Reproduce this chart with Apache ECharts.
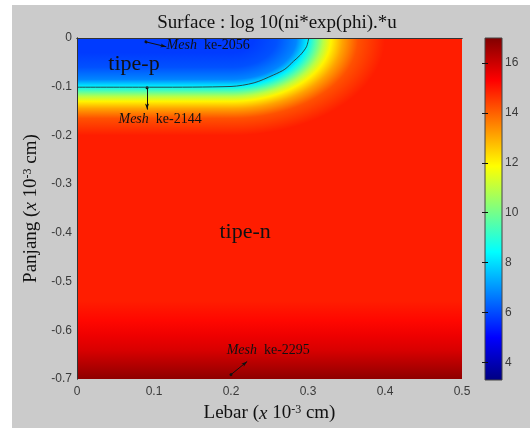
<!DOCTYPE html>
<html>
<head>
<meta charset="utf-8">
<script src="https://cdn.jsdelivr.net/npm/echarts@6/dist/echarts.min.js"></script>
<style>
  html, body { margin: 0; padding: 0; background: #fff; }
  #chart { width: 530px; height: 428px; }
</style>
</head>
<body>
<div id="chart"></div>
<script>
// vertical profile below the p-window (depth in 10^-3 cm, log10 value)
const pDepth = [0, 0.03, 0.06, 0.085, 0.1, 0.11, 0.12, 0.13, 0.145, 0.165, 0.2];
const pValue = [5.8, 5.8, 6.1, 6.8, 8.3, 9.6, 10.9, 12.0, 13.1, 14.2, 14.9];
const pWindowEdge = 0.2;

// darker band near the bottom of the device
const bottomY = [-0.54, -0.58, -0.61, -0.64, -0.67, -0.7];
const bottomValue = [14.9, 15.2, 15.5, 15.8, 16.3, 16.8];

// p-n junction contour
const junctionX = [0, 0.1, 0.2, 0.23, 0.255, 0.27, 0.281, 0.29, 0.298, 0.301];
const junctionY = [-0.101, -0.101, -0.0995, -0.092, -0.076, -0.064, -0.048, -0.035, -0.018, 0];

const cbMin = 3.3;
const cbMax = 17;
const cbTicks = [4, 6, 8, 10, 12, 14, 16];

const serif = "'Liberation Serif', 'Times New Roman', serif";
const sans = "'Liberation Sans', Arial, sans-serif";

// MATLAB jet colormap
const jetStops = [
  [0, [0, 0, 0.5]], [0.125, [0, 0, 1]], [0.375, [0, 1, 1]],
  [0.625, [1, 1, 0]], [0.875, [1, 0, 0]], [1, [0.5, 0, 0]],
];
function jet(v) {
  const t = Math.min(1, Math.max(0, (v - cbMin) / (cbMax - cbMin)));
  for (let i = 1; i < jetStops.length; i++) {
    const [t1, c1] = jetStops[i];
    const [t0, c0] = jetStops[i - 1];
    if (t <= t1) {
      const f = (t - t0) / (t1 - t0);
      const c = c0.map((a, k) => Math.round(255 * (a + (c1[k] - a) * f)));
      return `rgb(${c[0]},${c[1]},${c[2]})`;
    }
  }
  return 'rgb(128,0,0)';
}

const R = pDepth[pDepth.length - 1];
const profileStops = pDepth.map((d, i) => ({ offset: d / R, color: jet(pValue[i]) }));
const bottomStops = [{ offset: 0, color: jet(bottomValue[0]) }].concat(
  bottomY.map((y, i) => ({ offset: -y / 0.7, color: jet(bottomValue[i]) }))
);

const chart = echarts.init(document.getElementById('chart'), null, { renderer: 'canvas' });

const nameRich = {
  n: { fontFamily: serif, fontSize: 19, color: '#111' },
  it: { fontFamily: serif, fontSize: 19, fontStyle: 'italic', color: '#111' },
  sup: { fontFamily: serif, fontSize: 12, color: '#111', verticalAlign: 'top' },
};
const noteRich = {
  i: { fontFamily: serif, fontSize: 14, fontStyle: 'italic', color: '#111' },
  n: { fontFamily: serif, fontSize: 14, color: '#111' },
};

const option = {
  animation: false,
  backgroundColor: '#fff',
  graphic: [
    { type: 'rect', left: 12, top: 5, shape: { width: 518, height: 423 }, style: { fill: '#cbcbcb' }, z: -10 },
  ],
  title: {
    text: 'Surface : log 10(ni*exp(phi).*u',
    left: 272,
    top: 9,
    textAlign: 'center',
    textStyle: { fontFamily: serif, fontSize: 19, fontWeight: 'normal', color: '#111' },
  },
  grid: [
    { left: 77, top: 38, width: 385, height: 342 },
    { left: 485, top: 38, width: 17, height: 342 },
  ],
  xAxis: [
    {
      type: 'value', gridIndex: 0, min: 0, max: 0.5, interval: 0.1, z: 10,
      axisLine: { lineStyle: { color: '#333' } },
      axisTick: { show: false },
      splitLine: { show: false },
      axisLabel: {
        color: '#3a3a3a', fontFamily: sans, fontSize: 12, margin: 7,
        formatter: (v) => (v === 0 ? '0' : (+v).toFixed(1)),
      },
      name: '{n|Lebar (}{it|x}{n| 10}{sup|-3}{n| cm)}',
      nameLocation: 'middle',
      nameGap: 25,
      nameTextStyle: { rich: nameRich },
    },
    {
      type: 'value', gridIndex: 0, position: 'top', min: 0, max: 0.5, z: 10,
      axisLine: { lineStyle: { color: '#333' } },
      axisTick: { show: false }, axisLabel: { show: false }, splitLine: { show: false },
    },
    { type: 'value', gridIndex: 1, min: 0, max: 1, show: false },
  ],
  yAxis: [
    {
      type: 'value', gridIndex: 0, min: -0.7, max: 0, interval: 0.1, z: 10,
      axisLine: { lineStyle: { color: '#333' } },
      axisTick: { show: false },
      splitLine: { show: false },
      axisLabel: {
        color: '#3a3a3a', fontFamily: sans, fontSize: 12, margin: 5,
        formatter: (v) => (Math.abs(v) < 1e-9 ? '0' : (+v).toFixed(1)),
      },
      name: '{n|Panjang (}{it|x}{n| 10}{sup|-3}{n| cm)}',
      nameLocation: 'middle',
      nameGap: 34,
      nameTextStyle: { rich: nameRich },
    },
    {
      type: 'value', gridIndex: 0, position: 'right', min: -0.7, max: 0, z: 10,
      axisLine: { lineStyle: { color: '#333' } },
      axisTick: { show: false }, axisLabel: { show: false }, splitLine: { show: false },
    },
    {
      type: 'value', gridIndex: 1, position: 'right', min: cbMin, max: cbMax, z: 10,
      axisLine: { show: false },
      splitLine: { show: false },
      axisTick: { inside: true, length: 3, customValues: cbTicks, lineStyle: { color: '#111' } },
      axisLabel: { customValues: cbTicks, color: '#3a3a3a', fontFamily: sans, fontSize: 12, margin: 3 },
    },
    {
      type: 'value', gridIndex: 1, position: 'left', min: cbMin, max: cbMax, z: 10,
      axisLine: { show: false },
      splitLine: { show: false },
      axisTick: { inside: true, length: 3, customValues: cbTicks, lineStyle: { color: '#111' } },
      axisLabel: { show: false },
    },
  ],
  series: [
    {
      name: 'bulk',
      type: 'custom',
      xAxisIndex: 0, yAxisIndex: 0,
      data: [[0, 0]],
      renderItem(params, api) {
        const a = api.coord([0, 0]);
        const b = api.coord([0.5, -0.7]);
        return {
          type: 'rect',
          shape: { x: a[0], y: a[1], width: b[0] - a[0], height: b[1] - a[1] },
          style: { fill: new echarts.graphic.LinearGradient(0, 0, 0, 1, bottomStops) },
        };
      },
    },
    {
      name: 'corner',
      type: 'custom',
      xAxisIndex: 0, yAxisIndex: 0,
      data: [[pWindowEdge, 0]],
      renderItem(params, api) {
        const c = api.coord([pWindowEdge, 0]);
        const e = api.coord([pWindowEdge + R, -R]);
        const rx = e[0] - c[0];
        const ry = e[1] - c[1];
        return {
          type: 'sector',
          x: c[0], y: c[1],
          scaleX: rx / ry, scaleY: 1,
          shape: { cx: 0, cy: 0, r0: 0, r: ry, startAngle: 0, endAngle: Math.PI, clockwise: true },
          style: { fill: new echarts.graphic.RadialGradient(0, 0, ry, profileStops, true) },
        };
      },
    },
    {
      name: 'window',
      type: 'custom',
      xAxisIndex: 0, yAxisIndex: 0,
      data: [[0, 0]],
      renderItem(params, api) {
        const a = api.coord([0, 0]);
        const b = api.coord([pWindowEdge, -R]);
        return {
          type: 'rect',
          shape: { x: a[0], y: a[1], width: b[0] - a[0] + 0.5, height: b[1] - a[1] },
          style: { fill: new echarts.graphic.LinearGradient(0, 0, 0, 1, profileStops) },
        };
      },
    },
    {
      name: 'junction',
      type: 'line',
      xAxisIndex: 0, yAxisIndex: 0,
      data: junctionX.map((x, i) => [x, junctionY[i]]),
      smooth: 0.3,
      symbol: 'none',
      lineStyle: { color: '#24494d', width: 1 },
      z: 5,
      markLine: {
        silent: true,
        symbol: ['circle', 'arrow'],
        symbolSize: [3, 6],
        label: { show: false },
        lineStyle: { color: '#111', type: 'solid', width: 1 },
        data: [
          [{ coord: [0.0896, -0.008] }, { coord: [0.116, -0.018] }],
          [{ coord: [0.091, -0.102] }, { coord: [0.091, -0.147] }],
          [{ coord: [0.2, -0.691] }, { coord: [0.221, -0.664] }],
        ],
      },
      markPoint: {
        silent: true,
        symbol: 'circle',
        symbolSize: 1,
        itemStyle: { color: 'transparent' },
        label: { show: true, position: [0, 0], align: 'left', verticalAlign: 'middle', rich: noteRich },
        data: [
          { coord: [0.117, -0.016], label: { formatter: '{i|Mesh}{n|  ke-2056}' } },
          { coord: [0.0545, -0.168], label: { formatter: '{i|Mesh}{n|  ke-2144}' } },
          { coord: [0.195, -0.642], label: { formatter: '{i|Mesh}{n|  ke-2295}' } },
          {
            coord: [0.0747, -0.055],
            label: { formatter: 'tipe-p', align: 'center', fontFamily: serif, fontSize: 22, color: '#111' },
          },
          {
            coord: [0.219, -0.4],
            label: { formatter: 'tipe-n', align: 'center', fontFamily: serif, fontSize: 22, color: '#111' },
          },
        ],
      },
    },
    {
      name: 'colorbar',
      type: 'custom',
      xAxisIndex: 2, yAxisIndex: 2,
      data: [[0, cbMin]],
      renderItem(params, api) {
        const a = api.coord([0, cbMax]);
        const b = api.coord([1, cbMin]);
        const stops = jetStops.map(([t, c]) => ({
          offset: 1 - t,
          color: `rgb(${Math.round(c[0] * 255)},${Math.round(c[1] * 255)},${Math.round(c[2] * 255)})`,
        })).reverse();
        return {
          type: 'rect',
          shape: { x: a[0], y: a[1], width: b[0] - a[0], height: b[1] - a[1] },
          style: {
            fill: new echarts.graphic.LinearGradient(0, 0, 0, 1, stops),
            stroke: '#444', lineWidth: 1,
          },
        };
      },
    },
  ],
};

chart.setOption(option);
</script>
</body>
</html>
